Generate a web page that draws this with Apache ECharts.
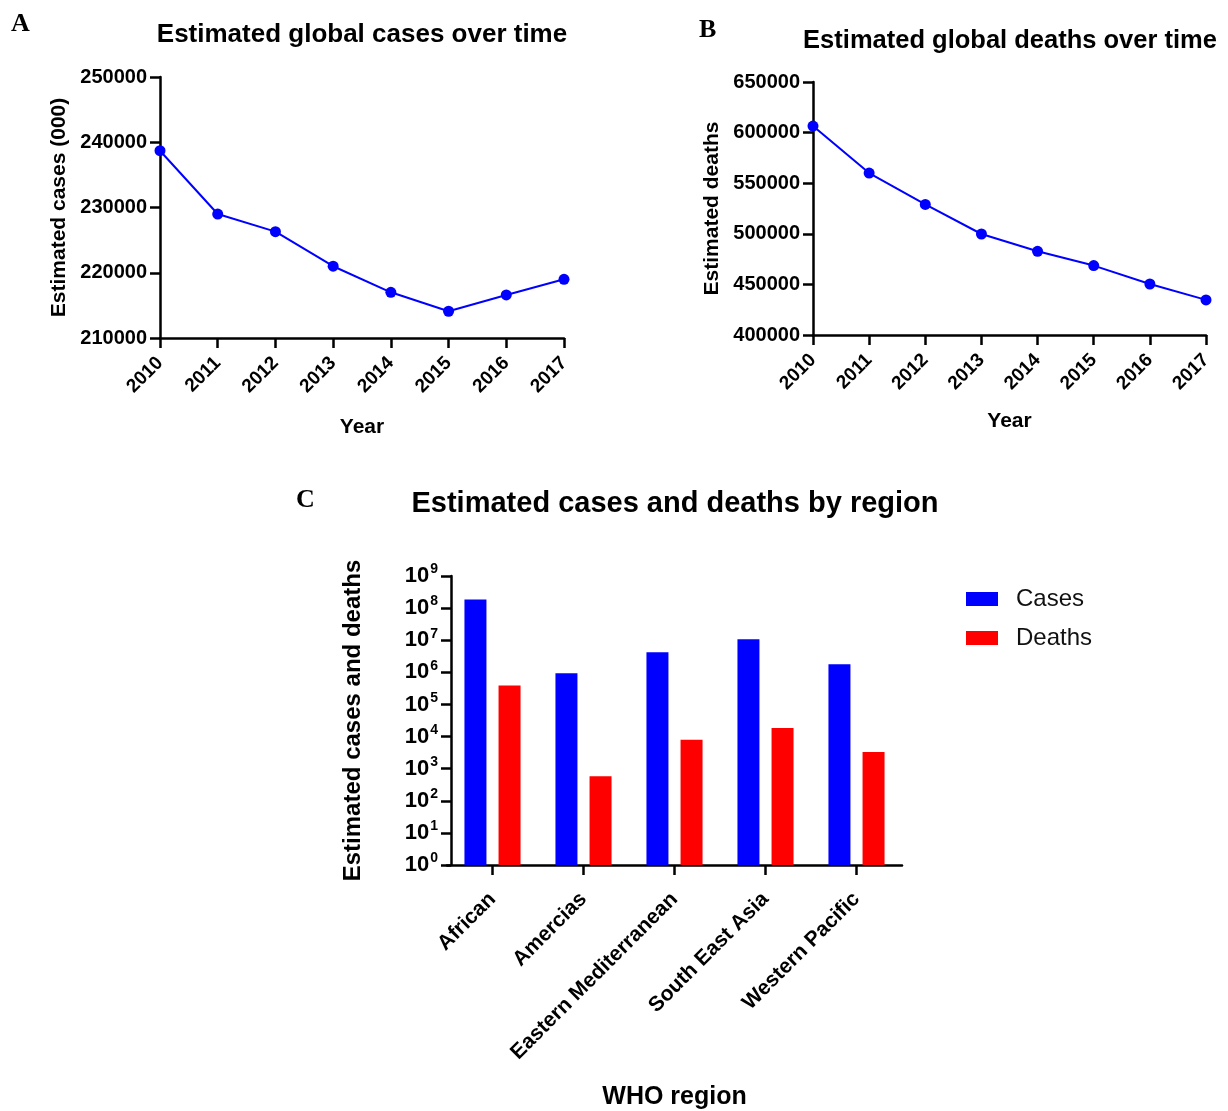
<!DOCTYPE html>
<html><head><meta charset="utf-8">
<script src="https://cdn.jsdelivr.net/npm/echarts@6/dist/echarts.min.js"></script>
<style>html,body{margin:0;padding:0;background:#fff}#c{width:1228px;height:1111px}</style>
</head><body><div id="c"></div>
<script>
const years = ['2010','2011','2012','2013','2014','2015','2016','2017'];
const casesThousands = [238700, 229000, 226300, 221000, 217000, 214100, 216600, 219000];
const deaths = [606500, 560000, 529000, 499800, 482700, 468600, 450400, 434700];
const regions = ['African','Amercias','Eastern Mediterranean','South East Asia','Western Pacific'];
const regionCases = [1.85e8, 9.3e5, 4.2e6, 1.08e7, 1.78e6];
const regionDeaths = [3.9e5, 580, 7.9e3, 1.85e4, 3.3e3];

const F = "'Liberation Sans', Arial, sans-serif";
const black = '#000';
const axisLine = {show:true, lineStyle:{color:black, width:2.5}};
const axisTick = {show:true, inside:false, length:10, lineStyle:{color:black, width:2.5}};
const boldLabel = (size) => ({color:black, fontFamily:F, fontWeight:'bold', fontSize:size});
const plain = (v) => String(v);

const chart = echarts.init(document.getElementById('c'), null, {renderer:'canvas'});
chart.setOption({
  animation:false,
  backgroundColor:'#fff',
  title:[
    {text:'A', left:6, top:6, textStyle:{fontFamily:"'Liberation Serif', serif", fontWeight:'bold', fontSize:26, color:black}},
    {text:'B', left:694, top:12, textStyle:{fontFamily:"'Liberation Serif', serif", fontWeight:'bold', fontSize:26, color:black}},
    {text:'C', left:291, top:482, textStyle:{fontFamily:"'Liberation Serif', serif", fontWeight:'bold', fontSize:26, color:black}},
    {text:'Estimated global cases over time', left:357, textAlign:'center', top:17, textStyle:{fontFamily:F, fontWeight:'bold', fontSize:26, color:black}},
    {text:'Estimated global deaths over time', left:1005, textAlign:'center', top:23, textStyle:{fontFamily:F, fontWeight:'bold', fontSize:25.5, color:black}},
    {text:'Estimated cases and deaths by region', left:670, textAlign:'center', top:484, textStyle:{fontFamily:F, fontWeight:'bold', fontSize:29, color:black}}
  ],
  legend:{
    data:['Cases','Deaths'], orient:'vertical', left:961, top:582,
    itemWidth:32, itemHeight:14, itemGap:15, icon:'rect',
    textStyle:{fontFamily:F, fontSize:24, color:'#111', padding:[0,0,0,13]}
  },
  grid:[
    {left:160, top:77, width:404, height:261},
    {left:813, top:82, width:393, height:253},
    {left:447, top:576, width:455, height:290}
  ],
  xAxis:[
    {gridIndex:0, type:'category', data:years, boundaryGap:false, axisLine, axisTick:{...axisTick, alignWithLabel:true},
     axisLabel:{...boldLabel(19), rotate:45, margin:22},
     name:'Year', nameLocation:'middle', nameGap:79, nameTextStyle:boldLabel(21)},
    {gridIndex:1, type:'category', data:years, boundaryGap:false, axisLine, axisTick:{...axisTick, alignWithLabel:true},
     axisLabel:{...boldLabel(19), rotate:45, margin:22},
     name:'Year', nameLocation:'middle', nameGap:76, nameTextStyle:boldLabel(21)},
    {gridIndex:2, type:'category', data:regions, axisLine, axisTick:{...axisTick, alignWithLabel:true},
     axisLabel:{...boldLabel(21), rotate:45, margin:31},
     name:'WHO region', nameLocation:'middle', nameGap:220, nameTextStyle:boldLabel(25)}
  ],
  yAxis:[
    {gridIndex:0, type:'value', min:210000, max:250000, interval:10000, axisLine, axisTick, splitLine:{show:false},
     axisLabel:{...boldLabel(20), margin:13, formatter:plain},
     name:'Estimated cases (000)', nameLocation:'middle', nameGap:90, nameTextStyle:boldLabel(21)},
    {gridIndex:1, type:'value', min:400000, max:650000, interval:50000, axisLine, axisTick, splitLine:{show:false},
     axisLabel:{...boldLabel(20), margin:13, formatter:plain},
     name:'Estimated deaths', nameLocation:'middle', nameGap:90, nameTextStyle:boldLabel(21)},
    {gridIndex:2, type:'log', logBase:10, min:1, max:1e9, splitNumber:9, offset:-4, axisLine, axisTick, splitLine:{show:false},
     axisLabel:{margin:13, formatter:(v)=>'{b|10}{s|' + Math.round(Math.log10(v)) + '}',
       rich:{b:{fontFamily:F, fontWeight:'bold', fontSize:22, color:black},
             s:{fontFamily:F, fontWeight:'bold', fontSize:14, color:black, padding:[0,0,13,1]}}},
     name:'Estimated cases and deaths', nameLocation:'middle', nameGap:86, nameTextStyle:boldLabel(24)}
  ],
  series:[
    {type:'line', xAxisIndex:0, yAxisIndex:0, data:casesThousands, color:'#0000ff', symbol:'circle', symbolSize:11,
     lineStyle:{width:2, color:'#0000ff'}, itemStyle:{color:'#0000ff'}},
    {type:'line', xAxisIndex:1, yAxisIndex:1, data:deaths, color:'#0000ff', symbol:'circle', symbolSize:11,
     lineStyle:{width:2, color:'#0000ff'}, itemStyle:{color:'#0000ff'}},
    {name:'Cases', type:'bar', xAxisIndex:2, yAxisIndex:2, data:regionCases, barWidth:22, barGap:'55%', itemStyle:{color:'#0000ff'}},
    {name:'Deaths', type:'bar', xAxisIndex:2, yAxisIndex:2, data:regionDeaths, barWidth:22, barGap:'55%', itemStyle:{color:'#ff0000'}}
  ]
});
</script></body></html>
